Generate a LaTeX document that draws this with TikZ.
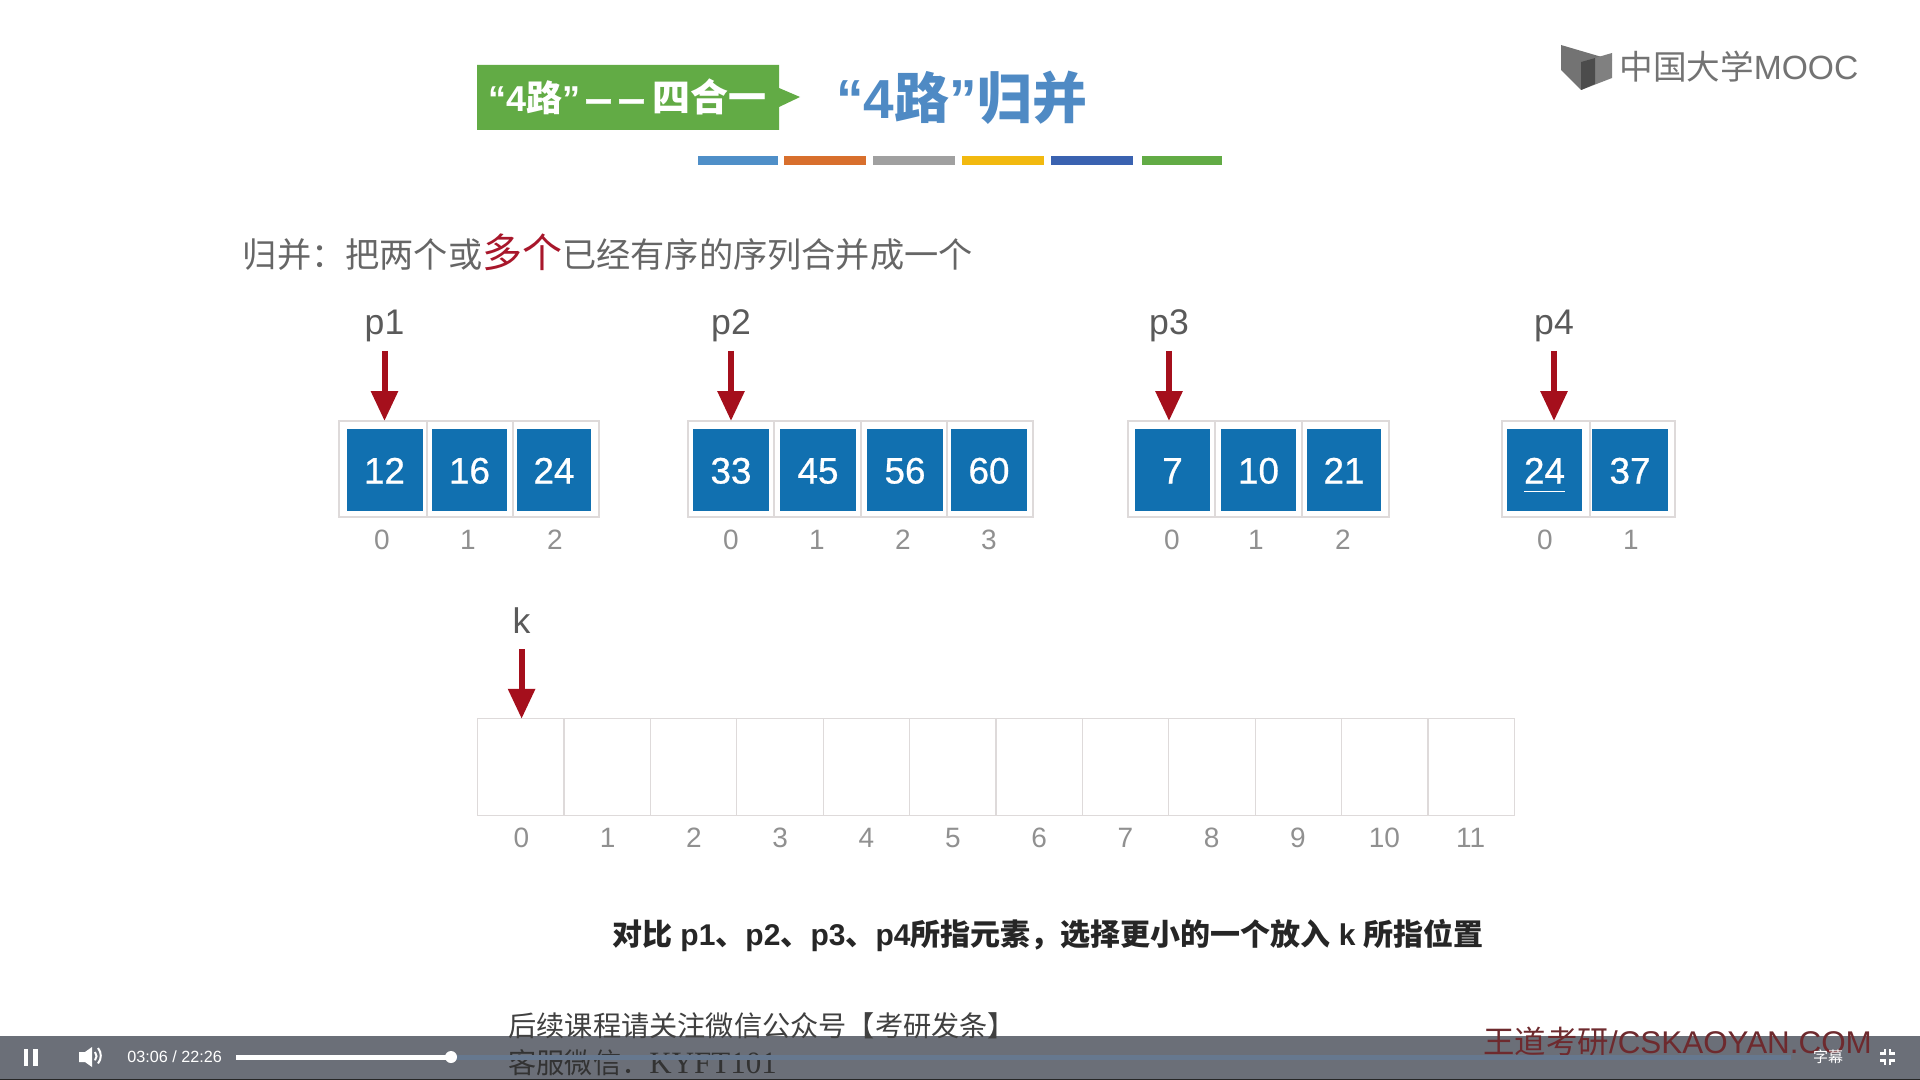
\documentclass[tikz,border=0pt]{standalone}
\usepackage{fontspec}
\setmainfont{Liberation Sans}
\newfontfamily\cjk{Noto Sans CJK SC}
\newfontfamily\serifl{Liberation Serif}
\newfontfamily\numf[FakeBold=0.7]{Liberation Sans}
\newfontfamily\dashf[FakeBold=1.5]{Noto Sans CJK SC}
\usetikzlibrary{arrows.meta,calc}
\definecolor{cellline}{HTML}{DEDADA}
\definecolor{cellblue}{HTML}{1170B0}
\definecolor{ptrred}{HTML}{A50F1C}
\definecolor{idxgray}{HTML}{909090}
\definecolor{labgray}{HTML}{5A5A5A}
\definecolor{defgray}{HTML}{666666}
\definecolor{bargray}{HTML}{6B6F78}
\definecolor{trackblue}{HTML}{66788F}
\definecolor{taggreen}{HTML}{62AB45}
\definecolor{titleblue}{HTML}{4F8AC4}
\definecolor{markred}{HTML}{A8172B}
\definecolor{wmred}{HTML}{6E2A2E}
\tikzset{
  cellbox/.style={draw=cellline,line width=0.6pt,fill=white,inner sep=0,outer sep=0,anchor=center},
  bluebox/.style={fill=cellblue,inner sep=0,outer sep=0,text=white,font=\fontsize{18.4}{20}\numf},
  idxlab/.style={text=idxgray,font=\fontsize{14}{16}\selectfont,inner sep=0},
  ptrlab/.style={text=labgray,font=\fontsize{17.8}{20}\selectfont,inner sep=0,outer sep=4pt,anchor=south,text height=12.5pt,text depth=4pt},
  ptr/.style={draw=ptrred,line width=3pt,-{Triangle[length=15pt,width=13pt,fill=ptrred]}},
  colorbar/.style={inner sep=0,outer sep=0,minimum height=4.5pt},
  iconw/.style={fill=white,draw=none},
}
\begin{document}
\begin{tikzpicture}[x=0.5pt,y=-0.5pt]
\useasboundingbox (0,0) rectangle (1920,1080);
\fill[white] (0,0) rectangle (1920,1080);

% header
\draw[fill=taggreen,draw=none] (477,65) -- (779,65) -- (779,88) -- (800,97) -- (779,107) -- (779,130) -- (477,130) -- cycle;
\node[inner sep=0,text=white,anchor=west] (tag) at (488,97) {\fontsize{18}{20}\selectfont\bfseries “4{\cjk 路}”\hspace{2.5pt}{\fontsize{13}{14}\dashf 一}\hspace{3.5pt}{\fontsize{13}{14}\dashf 一}\hspace{4pt}{\fontsize{19}{20}\selectfont\cjk 四合一}};
\node[inner sep=0,text=titleblue,anchor=west] (title) at (836,98) {\fontsize{27.5}{30}\selectfont\bfseries “4{\cjk 路}”{\cjk 归并}};
\foreach \n/\a/\b/\c in {b1/698/778/4F8FC8,b2/784/866/D86F2D,b3/873/955/A0A0A0,b4/962/1044/F2B90F,b5/1051/1133/3A62B0,b6/1142/1222/62AB45}{
  \definecolor{barc}{HTML}{\c}
  \node[colorbar,fill=barc,minimum width={(\b-\a)*0.5pt}] (\n) at ({(\a+\b)/2},160.5) {};
}
% logo
\fill[black!55] (1561,45) -- (1612,60) -- (1581,72) -- (1581,90) -- (1561,70) -- cycle;
\fill[black!50] (1612,53) -- (1612,78) -- (1581,90) -- (1581,62) -- cycle;
\fill[black!70] (1581,62) -- (1595,58) -- (1595,84) -- (1581,90) -- cycle;
\node[inner sep=0,text=black!55,anchor=west] (logo) at (1619,67) {\fontsize{16.8}{18}\selectfont{\cjk 中国大学}MOOC};

% definition
\node[inner sep=0,text=defgray,anchor=west] (defn) at (242.5,252) {\fontsize{17.1}{20}\selectfont\cjk 归并：把两个或{\fontsize{20}{22}\selectfont\color{markred}多个}已经有序的序列合并成一个};

% cell frames
\foreach \n/\a/\b in {pa0/339/427,pa1/427/513,pa2/513/599,
  pb0/688/774,pb1/774/861,pb2/861/947,pb3/947/1033,
  pc0/1128/1215,pc1/1215/1302,pc2/1302/1389,
  pd0/1502/1590,pd1/1590/1675}{
  \node[cellbox,minimum width={(\b-\a)*0.5pt},minimum height=48pt] (\n) at ({(\a+\b)/2},469) {};
}
% blue values
\foreach \n/\a/\b/\v in {va0/346.5/422.5/12,va1/432/507/16,va2/517/591/24,
  vb0/693/769/33,vb1/780/856/45,vb2/867/943/56,vb3/951/1027/60,
  vc0/1135/1210/7,vc1/1221/1296/10,vc2/1307/1381/21,
  vd0/1507/1582/24,vd1/1592/1668/37}{
  \node[bluebox,minimum width={(\b-\a)*0.5pt},minimum height=41pt,text height=14pt,text depth=-1pt] (\n) at ({(\a+\b)/2},469.5) {\v};
}
\draw[white,line width=0.9pt] ($(vd0.center)+(-20.5,22)$) -- ($(vd0.center)+(20.5,22)$);
% index labels
\foreach \n/\x/\v in {ia0/382/0,ia1/468/1,ia2/555/2,
  ib0/731/0,ib1/817/1,ib2/903/2,ib3/989/3,
  ic0/1172/0,ic1/1256/1,ic2/1343/2,
  id0/1545/0,id1/1631/1}{
  \node[idxlab] (\n) at (\x,540) {\v};
}
% pointers
\node[ptrlab] (lp1) at (384.5,351) {p1};
\node[ptrlab] (lp2) at (731,351) {p2};
\node[ptrlab] (lp3) at (1169,351) {p3};
\node[ptrlab] (lp4) at (1554,351) {p4};
\draw[ptr] (lp1.south) -- (lp1.south |- pa0.north);
\draw[ptr] (lp2.south) -- (lp2.south |- pb0.north);
\draw[ptr] (lp3.south) -- (lp3.south |- pc0.north);
\draw[ptr] (lp4.south) -- (lp4.south |- pd0.north);

% merged array
\foreach \i in {0,...,11}{
  \node[cellbox,minimum width=43.2pt,minimum height=48.2pt] (k\i) at ({520.7+86.4*\i},767) {};
  \node[idxlab] (ik\i) at ({521.3+86.3*\i},837.5) {\i};
}
\node[ptrlab] (lk) at (521.6,649) {k};
\draw[ptr] (lk.south) -- (lk.south |- k0.north);

% caption
\node[inner sep=0,anchor=center,text=black!85] (cap) at (1048,935) {\fontsize{15}{18}\selectfont\bfseries {\cjk 对比} p1{\cjk 、}p2{\cjk 、}p3{\cjk 、}p4{\cjk 所指元素，选择更小的一个放入} k {\cjk 所指位置}};

% player bar
\fill[bargray] (0,1036) rectangle (1920,1079);
\fill[black!85] (0,1079) rectangle (1920,1080);
\node[inner sep=0,anchor=west,text=black!75] (foot1) at (508,1026) {\fontsize{14.1}{16}\selectfont\cjk 后续课程请关注微信公众号【考研发条】};
\node[inner sep=0,anchor=west,text=black!80] (foot2) at (508,1063) {\fontsize{14.1}{16}\selectfont{\cjk 客服微信：}{\fontsize{15.5}{16}\selectfont\serifl KYFT101}};
\node[inner sep=0,anchor=west,text=wmred] (wm) at (1483,1042) {\fontsize{15.7}{18}\selectfont{\cjk 王道考研}/CSKAOYAN.COM};
\fill[trackblue] (451,1054.5) rectangle (1791,1059.5);
\fill[white] (236,1054.5) rectangle (451,1059.5);
\fill[white] (451,1057) circle (6);
% pause and volume
\fill[iconw] (24,1049) rectangle (28,1066);
\fill[iconw] (33,1049) rectangle (38,1066);
\fill[iconw] (79,1052) -- (85,1052) -- (92,1047) -- (92,1067) -- (85,1062) -- (79,1062) -- cycle;
\draw[white,line width=1pt] (95,1052) arc (-40:40:6.5);
\draw[white,line width=1pt] (98,1048) arc (-40:40:12);
\node[inner sep=0,text=white,anchor=west] (time) at (127,1057) {\fontsize{8.1}{10}\selectfont 03:06 / 22:26};
\node[inner sep=0,text=white] (subs) at (1828,1057) {\fontsize{7.5}{9}\selectfont\cjk 字幕};
% exit fullscreen
\draw[white,line width=1.3pt] (1880,1053.5) -- (1885,1053.5) -- (1885,1049);
\draw[white,line width=1.3pt] (1895,1053.5) -- (1890,1053.5) -- (1890,1049);
\draw[white,line width=1.3pt] (1880,1060.5) -- (1885,1060.5) -- (1885,1065);
\draw[white,line width=1.3pt] (1895,1060.5) -- (1890,1060.5) -- (1890,1065);
\end{tikzpicture}
\end{document}
